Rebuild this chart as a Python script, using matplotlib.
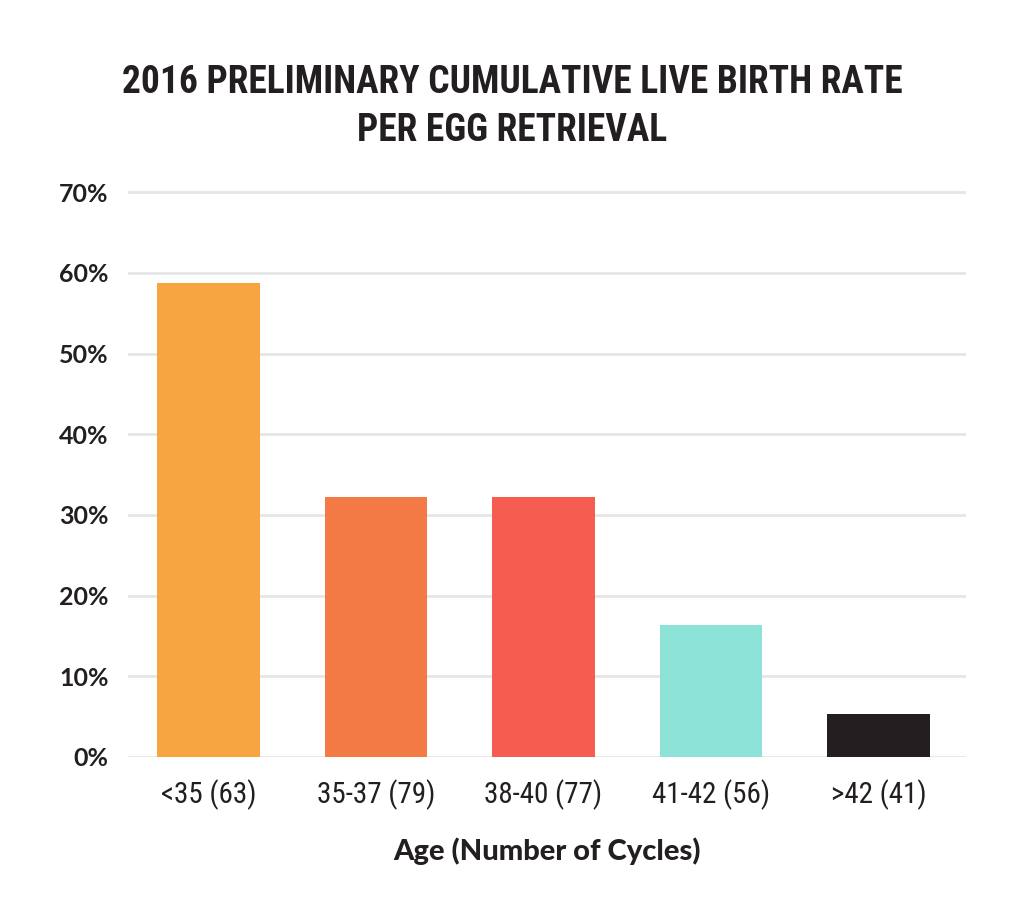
import matplotlib
matplotlib.use('Agg')
from matplotlib import pyplot as plt

# 数据
categories = ['<35 (63)', '35-37 (79)', '38-40 (77)', '41-42 (56)', '>42 (41)']
rates = [58.7, 32.2, 32.2, 16.3, 5.3]
bar_colors = ['#F6A540', '#F47A45', '#F45D4F', '#8DE3D8', '#231F20']
yticks = [0, 10, 20, 30, 40, 50, 60, 70]

# 字体：找不到就退回
cond = ['Roboto Condensed', 'Roboto']
geo = ['Lato', 'DejaVu Sans']

fig = plt.figure(figsize=(10.24, 9.22), dpi=100)
ax = fig.add_axes([0.125, 0.179, 0.818, 0.6125 * 71 / 70])

ax.bar(range(len(categories)), rates, width=0.61, color=bar_colors, zorder=3)
ax.set_xlim(-0.48, 4.52)
ax.set_ylim(0, 71)

ax.set_yticks(yticks)
ax.set_yticklabels([f'{v}%' for v in yticks], fontsize=18, color='#231F20',
                   family=geo, fontweight='bold')
ax.set_xticks(range(len(categories)))
ax.set_xticklabels(categories, fontsize=21, color='#231F20', family=cond)
ax.tick_params(axis='both', length=0)
ax.tick_params(axis='y', pad=14)
ax.tick_params(axis='x', pad=16)

ax.grid(axis='y', color='#E6E6E6', linewidth=2, zorder=0)
for s in ax.spines.values():
    s.set_visible(False)

ax.set_xlabel('Age (Number of Cycles)', fontsize=21, fontweight='black',
              family=geo, color='#231F20', labelpad=20)

# 标题
fig.text(0.5, 0.910, '2016 PRELIMINARY CUMULATIVE LIVE BIRTH RATE',
         ha='center', va='center', fontsize=27, fontweight='bold',
         family=cond, color='#231F20')
fig.text(0.5, 0.859, 'PER EGG RETRIEVAL',
         ha='center', va='center', fontsize=27, fontweight='bold',
         family=cond, color='#231F20')

plt.savefig('out.png', dpi=100)
